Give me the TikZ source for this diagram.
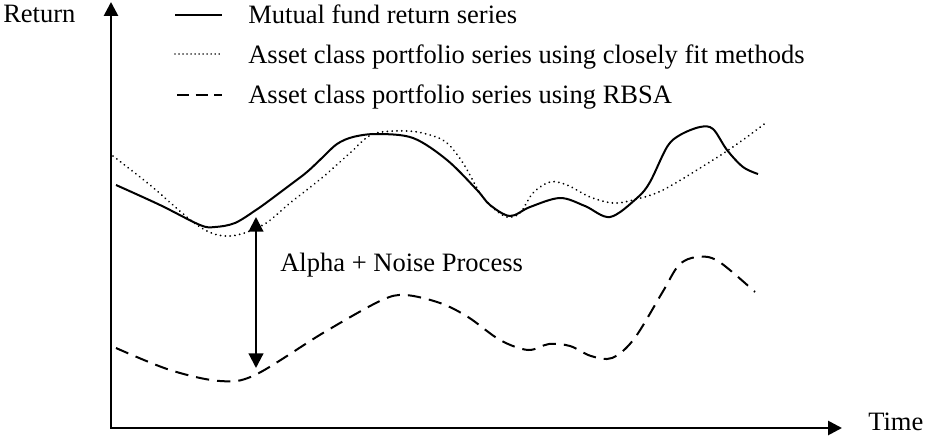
\documentclass[tikz,border=0pt]{standalone}
\usepackage{fontspec}
\setmainfont{Liberation Serif}
\usetikzlibrary{arrows.meta}
\begin{document}
\begin{tikzpicture}[x=0.75pt,y=-0.75pt,
  lbl/.style={anchor=base west,inner sep=0pt,font=\fontsize{19.9}{24}\selectfont},
  axisline/.style={line width=2pt,line join=miter,{Triangle[length=10.5pt,width=10.5pt]}-{Triangle[length=10.5pt,width=10.5pt]}},
  gaparrow/.style={line width=1.6pt,{Triangle[length=11pt,width=11pt]}-{Triangle[length=11pt,width=11pt]}},
  curve/.style={line width=1.5pt,smooth,tension=0.55},
  dotline/.style={line width=1.5pt,dash pattern=on 0.01pt off 3.6pt,line cap=round},
  dashline/.style={line width=1.5pt,dash pattern=on 10pt off 6pt}]
\useasboundingbox (0,0) rectangle (930,435);

% axes
\coordinate (ytop) at (111,2);
\coordinate (orig) at (111,428);
\coordinate (xend) at (842,428);
\draw[axisline] (ytop) -- (orig) -- (xend);
\node[lbl] (ret) at (3,23) {Return};
\node[lbl] (time) at (868,430) {Time};

% legend
\coordinate (l1a) at (175,15);  \coordinate (l1b) at (222,15);
\coordinate (l2a) at (175,54);  \coordinate (l2b) at (222,54);
\coordinate (l3a) at (177,95);  \coordinate (l3b) at (222,95);
\draw[line width=1.5pt] (l1a) -- (l1b);
\draw[line width=1.1pt,dash pattern=on 0.01pt off 3pt,line cap=round] (l2a) -- (l2b);
\draw[line width=1.5pt,dash pattern=on 9pt off 5pt] (l3a) -- (l3b);
\node[lbl] (t1) at (248,24) {Mutual fund return series};
\node[lbl] (t2) at (248,63.5) {Asset class portfolio series using closely fit methods};
\node[lbl] (t3) at (248,103) {Asset class portfolio series using RBSA};

% mutual fund (solid)
\draw[curve] plot coordinates {(116,185) (160,205) (200,225) (215,227) (235,223) (256,210) (270,200) (290,185) (307,172) (323,157) (337,144) (353,137) (377,134) (413,138) (447,160) (477,190) (490,205) (510,216) (530,207) (560,198) (585,206) (610,217) (637,198) (650,182) (667,147) (680,135) (700,127) (713,129) (727,150) (743,167) (758,174)};

% closely fit (dotted)
\draw[curve,dotline] plot coordinates {(113,156) (150,185) (200,227) (230,236) (263,225) (290,203) (323,177) (350,153) (373,134) (407,131) (430,135) (447,143) (463,163) (480,193) (493,208) (507,217) (520,213) (533,193) (550,182) (567,185) (590,197) (613,203) (633,200) (663,190) (713,160) (740,142) (767,122)};

% RBSA (dashed)
\draw[curve,dashline] plot coordinates {(116,348) (170,370) (220,381) (255,375) (323,333) (380,301) (405,295) (440,303) (468,317) (500,340) (528,350) (549,344) (570,346) (591,356) (612,358) (634,339) (662,293) (679,265) (697,257) (718,261) (755,292)};

% alpha + noise
\coordinate (ga) at (256,217);
\coordinate (gb) at (256,368);
\draw[gaparrow] (ga) -- (gb);
\node[lbl] (alpha) at (280,271) {Alpha + Noise Process};
\end{tikzpicture}
\end{document}
